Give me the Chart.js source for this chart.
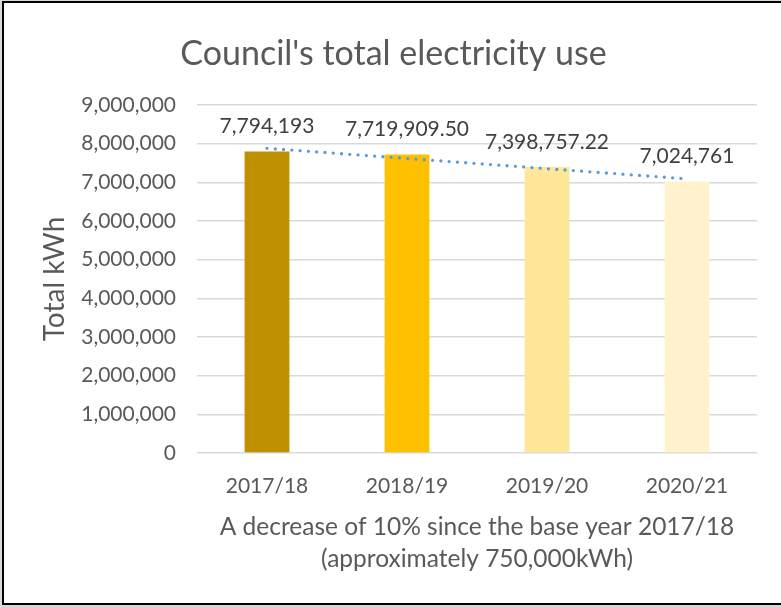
<!DOCTYPE html>
<html>
<head>
<meta charset="utf-8">
<script src="https://cdn.jsdelivr.net/npm/chart.js@4.4.1/dist/chart.umd.min.js"></script>
<style>
  html, body { margin: 0; padding: 0; background: #d9d9d9; width: 781px; height: 607px; overflow: hidden; }
  #frame { position: absolute; left: 2px; top: 1px; width: 800px; height: 604px; box-sizing: border-box; border: 2px solid #000; background: #fff; }
  #wrap { position: absolute; left: 0; top: 0; width: 781px; height: 607px; }
</style>
</head>
<body>
<div id="frame"></div>
<div id="wrap"><canvas id="chart" width="781" height="607"></canvas></div>
<script>
// Financial years and total electricity use (kWh)
const years = ['2017/18', '2018/19', '2019/20', '2020/21'];
const totalKWh = [7794193, 7719909.50, 7398757.22, 7024761];
const barColors = ['#BF9000', '#FFC000', '#FFE699', '#FFF2CC'];
// Linear trend line: values at the first and last year
const trendKWh = [7880000, null, null, 7090000];
const yTicks = [0, 1000000, 2000000, 3000000, 4000000, 5000000, 6000000, 7000000, 8000000, 9000000];

const TEXT = '#595959';
const FONT = 'Lato, "Noto Sans", sans-serif';

function fmtValue(v) {
  return Number.isInteger(v)
    ? v.toLocaleString('en-US')
    : v.toLocaleString('en-US', { minimumFractionDigits: 2, maximumFractionDigits: 2 });
}

// Value labels above each bar
const valueLabels = {
  id: 'valueLabels',
  afterDatasetsDraw(chart) {
    const meta = chart.getDatasetMeta(0);
    const ctx = chart.ctx;
    ctx.save();
    ctx.font = '21px ' + FONT;
    ctx.fillStyle = '#404040';
    ctx.textAlign = 'center';
    ctx.textBaseline = 'middle';
    meta.data.forEach((bar, i) => {
      ctx.fillText(fmtValue(totalKWh[i]), bar.x, bar.y - 25);
    });
    ctx.restore();
  }
};

new Chart(document.getElementById('chart'), {
  data: {
    labels: years,
    datasets: [
      {
        type: 'bar',
        data: totalKWh,
        backgroundColor: barColors,
        barPercentage: 0.32,
        categoryPercentage: 1,
        order: 2
      },
      {
        type: 'line',
        data: trendKWh,
        spanGaps: true,
        borderColor: '#5B9BD5',
        borderWidth: 3.3,
        borderDash: [0, 8.3],
        borderCapStyle: 'round',
        pointRadius: 0,
        fill: false,
        order: 1
      }
    ]
  },
  options: {
    responsive: false,
    animation: false,
    layout: { padding: { left: 15, right: 9, top: 0, bottom: 0 } },
    plugins: {
      legend: { display: false },
      tooltip: { enabled: false },
      title: {
        display: true,
        text: "Council's total electricity use",
        color: TEXT,
        font: { family: FONT, size: 34, weight: 'normal', lineHeight: 1.2 },
        padding: { top: 34, bottom: 30.2 }
      }
    },
    scales: {
      x: {
        grid: { display: false, drawTicks: false },
        border: { display: false },
        ticks: { color: TEXT, font: { family: FONT, size: 21 }, padding: 21 },
        title: {
          display: true,
          text: ['A decrease of 10% since the base year 2017/18', '(approximately 750,000kWh)'],
          color: TEXT,
          font: { family: FONT, size: 24.5, lineHeight: '32px' },
          padding: { top: 0, bottom: 32 }
        },
        afterFit(scale) { scale.height = 154; }
      },
      y: {
        min: 0,
        max: 9000000,
        afterBuildTicks(scale) { scale.ticks = yTicks.map(v => ({ value: v })); },
        grid: { color: '#D9D9D9', lineWidth: 1.5, drawTicks: false },
        border: { display: false },
        ticks: {
          color: TEXT,
          font: { family: FONT, size: 21 },
          padding: 21,
          callback: v => v.toLocaleString('en-US')
        },
        title: {
          display: true,
          text: 'Total kWh',
          color: TEXT,
          font: { family: FONT, size: 28, lineHeight: 1.2 },
          padding: { top: 23, bottom: 0 }
        },
        afterFit(scale) { scale.width = 182; }
      },
      // empty right-hand margin beside the plot
      yRight: {
        position: 'right',
        min: 0,
        max: 9000000,
        grid: { display: false, drawTicks: false },
        border: { display: false },
        ticks: { display: false },
        afterFit(scale) { scale.width = 15; }
      }
    }
  },
  plugins: [valueLabels]
});
</script>
</body>
</html>
